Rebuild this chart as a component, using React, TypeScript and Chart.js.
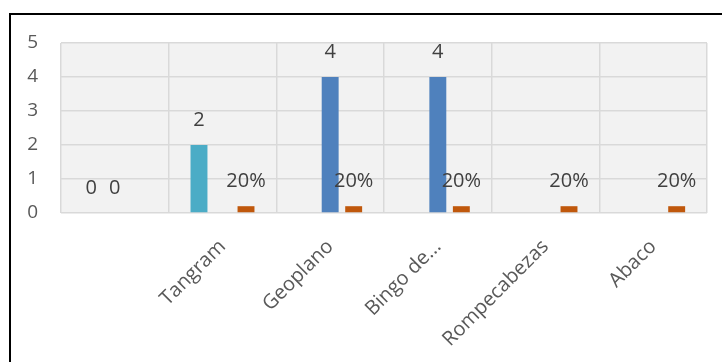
import React, { useEffect, useRef } from "react";
import { Chart, registerables } from "chart.js";

Chart.register(...registerables);

const categories = ["", "Tangram", "Geoplano", "Bingo de...", "Rompecabezas", "Abaco"];
const seriesTeal: (number | null)[] = [0, 2, null, null, null, null];
const seriesBlue: (number | null)[] = [0, null, 4, 4, null, null];
const seriesOrange: (number | null)[] = [null, 0.2, 0.2, 0.2, 0.2, 0.2];
const yTicks = [0, 1, 2, 3, 4, 5];

const FONT = "'Open Sans', 'DejaVu Sans', sans-serif";

const plotBg = {
  id: "plotBg",
  beforeDraw(chart: any) {
    const { ctx, chartArea: a } = chart;
    ctx.save();
    ctx.fillStyle = "#F2F2F2";
    ctx.fillRect(a.left, a.top, a.right - a.left, a.bottom - a.top);
    ctx.restore();
  },
};

const valueLabels = {
  id: "valueLabels",
  afterDatasetsDraw(chart: any) {
    const { ctx } = chart;
    ctx.save();
    ctx.font = `20px ${FONT}`;
    ctx.fillStyle = "#404040";
    ctx.textAlign = "center";
    ctx.textBaseline = "middle";
    chart.data.datasets.forEach((ds: any, di: number) => {
      const meta = chart.getDatasetMeta(di);
      meta.data.forEach((el: any, i: number) => {
        const v = ds.data[i];
        if (v === null || v === undefined) return;
        const txt = ds.isPercent ? `${Math.round(v * 100)}%` : String(v);
        ctx.fillText(txt, el.x, el.y - 25);
      });
    });
    ctx.restore();
  },
};

export default function App() {
  const ref = useRef<HTMLCanvasElement | null>(null);
  useEffect(() => {
    if (!ref.current) return;
    const chart = new Chart(ref.current, {
      type: "bar",
      data: {
        labels: categories,
        datasets: [
          { label: "A", data: seriesTeal, backgroundColor: "#4BACC6" },
          { label: "B", data: seriesBlue, backgroundColor: "#4F81BD" },
          { label: "C", data: seriesOrange, backgroundColor: "#C0580C", isPercent: true } as any,
        ],
      },
      options: {
        responsive: false,
        animation: false,
        categoryPercentage: 0.655,
        barPercentage: 0.72,
        layout: { padding: { left: 0, top: 43, right: 15, bottom: 0 } },
        plugins: { legend: { display: false }, tooltip: { enabled: false } },
        scales: {
          x: {
            grid: { color: "#D9D9D9", lineWidth: 1.5, drawTicks: false },
            border: { display: false },
            ticks: {
              minRotation: 45,
              maxRotation: 45,
              padding: 22,
              color: "#595959",
              font: { family: FONT, size: 20 },
            },
            afterFit(scale: any) {
              scale.height = 149;
            },
          },
          y: {
            min: 0,
            max: 5,
            afterBuildTicks(scale: any) {
              scale.ticks = yTicks.map((v) => ({ value: v }));
            },
            grid: { color: "#D9D9D9", lineWidth: 1.5, drawTicks: false },
            border: { display: false },
            ticks: {
              padding: 23,
              color: "#595959",
              font: { family: FONT, size: 19 },
            },
            afterFit(scale: any) {
              scale.width = 61;
            },
          },
        },
      },
      plugins: [plotBg, valueLabels],
    });
    return () => chart.destroy();
  }, []);

  return (
    <div style={{ position: "fixed", left: 0, top: 0, width: 722, height: 362, background: "#fff", overflow: "hidden" }}>
      <canvas ref={ref} width={722} height={362} style={{ position: "absolute", left: 0, top: 0 }} />
      <div
        style={{
          position: "absolute",
          left: 9,
          top: 13,
          width: 800,
          height: 400,
          borderTop: "2px solid #000",
          borderLeft: "2px solid #000",
          pointerEvents: "none",
        }}
      />
    </div>
  );
}
